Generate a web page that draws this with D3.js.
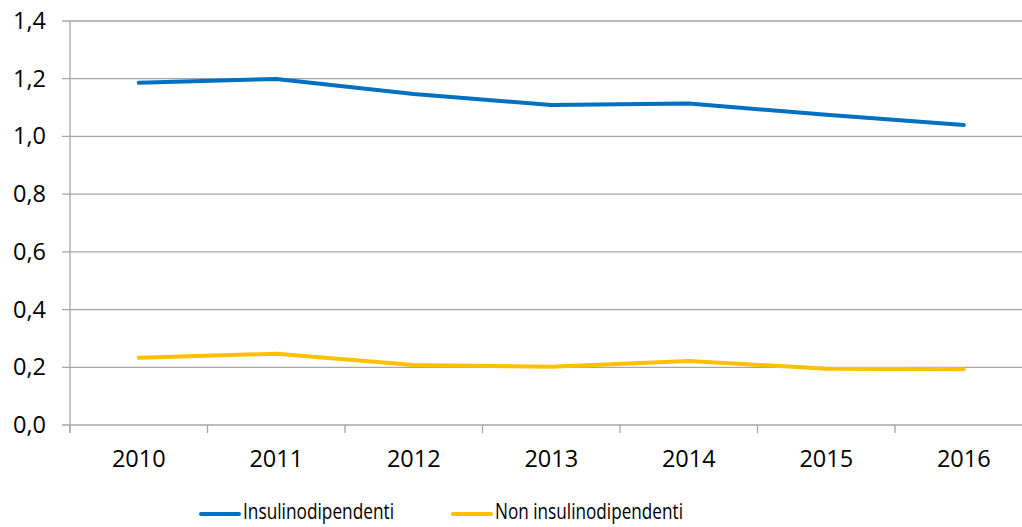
<!DOCTYPE html>
<html>
<head>
  <meta charset="utf-8">
  <title>Insulinodipendenti</title>
  <script src="https://d3js.org/d3.v7.min.js"></script>
  <style>
    body { margin: 0; background: #fff; }
    text { font-family: "Open Sans", sans-serif; fill: #000; }
  </style>
</head>
<body>
<div id="vis"></div>
<script>
// valori
var anni = ["2010", "2011", "2012", "2013", "2014", "2015", "2016"];
var insulino = [1.186, 1.199, 1.147, 1.109, 1.114, 1.075, 1.040];
var nonInsulino = [0.233, 0.247, 0.208, 0.202, 0.222, 0.195, 0.193];
var yTicks = [0, 0.2, 0.4, 0.6, 0.8, 1.0, 1.2, 1.4];
var serie = [
  { nome: "Insulinodipendenti", valori: insulino, colore: "#0070C0", larg: 151 },
  { nome: "Non insulinodipendenti", valori: nonInsulino, colore: "#FFC000", larg: 188 }
];

var W = 1022, H = 527;
var mLeft = 70, mTop = 21, mBottom = 425;

var svg = d3.select("#vis").append("svg")
  .attr("width", W)
  .attr("height", H);

var x = d3.scaleBand()
  .domain(anni)
  .range([mLeft, mLeft + 7 * 137.5]);

var y = d3.scaleLinear()
  .domain([0, 1.4])
  .range([mBottom, mTop]);

// griglia
svg.selectAll(".grid").data(yTicks).enter().append("line")
  .attr("x1", mLeft - 8)
  .attr("x2", W)
  .attr("y1", function(d) { return y(d); })
  .attr("y2", function(d) { return y(d); })
  .attr("stroke", "#A6A6A6")
  .attr("stroke-width", 1.3);

// asse y
svg.append("line")
  .attr("x1", mLeft).attr("x2", mLeft)
  .attr("y1", mTop).attr("y2", mBottom + 8)
  .attr("stroke", "#A6A6A6")
  .attr("stroke-width", 1.3);

svg.selectAll(".ylab").data(yTicks).enter().append("text")
  .attr("x", 46)
  .attr("y", function(d) { return y(d) + 8; })
  .attr("text-anchor", "end")
  .style("font-size", "23.5px")
  .text(function(d) { return d.toFixed(1).replace(".", ","); });

// tacche asse x
var bordi = d3.range(0, 8).map(function(i) { return mLeft + i * x.bandwidth(); });
svg.selectAll(".xtick").data(bordi).enter().append("line")
  .attr("x1", function(d) { return d; })
  .attr("x2", function(d) { return d; })
  .attr("y1", mBottom)
  .attr("y2", mBottom + 8)
  .attr("stroke", "#A6A6A6")
  .attr("stroke-width", 1.3);

svg.selectAll(".xlab").data(anni).enter().append("text")
  .attr("x", function(d) { return x(d) + x.bandwidth() / 2; })
  .attr("y", 467)
  .attr("text-anchor", "middle")
  .style("font-size", "23.5px")
  .text(function(d) { return d; });

// linee
var linea = d3.line()
  .x(function(d, i) { return x(anni[i]) + x.bandwidth() / 2; })
  .y(function(d) { return y(d); });

svg.selectAll(".serie").data(serie).enter().append("path")
  .attr("d", function(s) { return linea(s.valori); })
  .attr("fill", "none")
  .attr("stroke", function(s) { return s.colore; })
  .attr("stroke-width", 4)
  .attr("stroke-linejoin", "round")
  .attr("stroke-linecap", "round");

// legenda
var legX = [201, 453];
var leg = svg.selectAll(".leg").data(serie).enter().append("g")
  .attr("transform", function(s, i) { return "translate(" + legX[i] + ",514)"; });
leg.append("line")
  .attr("x1", 0).attr("x2", 38)
  .attr("stroke", function(s) { return s.colore; })
  .attr("stroke-width", 4)
  .attr("stroke-linecap", "round");
leg.append("text")
  .attr("x", 42)
  .attr("y", 5)
  .attr("textLength", function(s) { return s.larg; })
  .attr("lengthAdjust", "spacingAndGlyphs")
  .style("font-size", "22.5px")
  .text(function(s) { return s.nome; });
</script>
</body>
</html>
